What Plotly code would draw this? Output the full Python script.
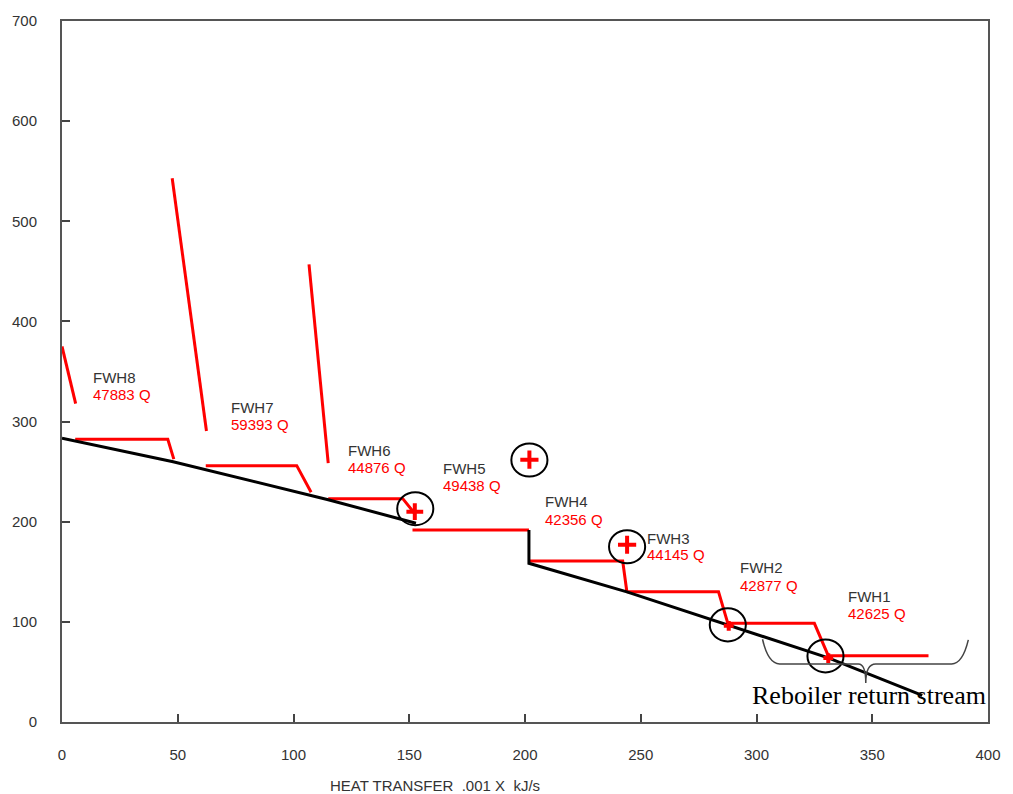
import plotly.graph_objects as go

# ---------------- data ----------------
x_ticks = [0, 50, 100, 150, 200, 250, 300, 350, 400]
y_ticks = [0, 100, 200, 300, 400, 500, 600, 700]

# feedwater (cold) composite line, black
feed_a_x = [0, 48, 115, 152.9]
feed_a_y = [283.3, 259.8, 222, 198.4]
feed_b_x = [201.7, 201.7, 244, 287.6, 331, 371.6]
feed_b_y = [191.7, 158.5, 130, 97, 64, 26.5]

# extraction steam desuperheating lines (red)
desup_x = [[0, 5.9], [47.6, 62.4], [106.7, 115]]
desup_y = [[375, 318], [543, 290.6], [457, 258.6]]

# heater condensing / drain profiles (red)
fwh8_x = [5.7, 45.7, 48.3]
fwh8_y = [282.3, 282.3, 262.5]
fwh7_x = [62.1, 101.4, 107.6]
fwh7_y = [256, 256, 229.5]
fwh6_x = [115, 147.2, 152.2]
fwh6_y = [223, 223, 208.7]
fwh5_x = [151.4, 201.7]
fwh5_y = [191.7, 191.7]
fwh4_x = [201.7, 242.2, 244]
fwh4_y = [160.8, 160.8, 130]
fwh3_x = [244, 283.6, 288]
fwh3_y = [130, 130, 95.5]
fwh2_x = [288, 325, 331.5]
fwh2_y = [98.5, 98.5, 63.6]
fwh1_x = [331.5, 374.3]
fwh1_y = [66.2, 66.2]

# red cross markers
cross_x = [152.4, 201.9, 244.1, 288, 331]
cross_y = [210, 262, 177, 96, 63.8]
cross_size = [12, 13, 13, 7, 7]

# black circles (centres)
circle_x = [152.6, 201.9, 244.1, 287.6, 329.8]
circle_y = [213, 261.6, 175, 97, 66]
circle_rx = 7.8
circle_ry = 16.5

# heater labels
fwh_names = ["FWH8", "FWH7", "FWH6", "FWH5", "FWH4", "FWH3", "FWH2", "FWH1"]
fwh_q = ["47883 Q", "59393 Q", "44876 Q", "49438 Q", "42356 Q", "44145 Q", "42877 Q", "42625 Q"]
label_x = [12.4, 72, 122.6, 163.6, 207.9, 251.9, 291.9, 338.6]
label_y = [344.5, 314.5, 271.6, 253.6, 219.9, 183.7, 153.8, 125.1]
q_y = [327.5, 297.5, 254.6, 236.6, 202.7, 166.8, 136.8, 107.9]

# brace under the reboiler return stream
brace_x = [302.6, 305, 310, 344, 347.2, 351.5, 384.3, 389, 391.5]
brace_y = [82.6, 62, 58, 58, 39, 58, 58, 62, 82]
brace_text = "Reboiler return stream"
brace_text_x = 348.5
brace_text_y = 26

x_title = "HEAT TRANSFER\u00a0\u00a0.001 X\u00a0\u00a0kJ/s"

# ---------------- figure ----------------
RED = "#ff0000"
fig = go.Figure()

def join(segs_x, segs_y):
    xs, ys = [], []
    for sx, sy in zip(segs_x, segs_y):
        xs += list(sx) + [None]
        ys += list(sy) + [None]
    return xs, ys

rx, ry = join(desup_x + [fwh8_x, fwh7_x, fwh6_x, fwh5_x, fwh4_x, fwh3_x, fwh2_x, fwh1_x],
              desup_y + [fwh8_y, fwh7_y, fwh6_y, fwh5_y, fwh4_y, fwh3_y, fwh2_y, fwh1_y])
fig.add_trace(go.Scatter(x=rx, y=ry, mode="lines",
                         line=dict(color=RED, width=3), hoverinfo="skip"))

bx, by = join([feed_a_x, feed_b_x], [feed_a_y, feed_b_y])
fig.add_trace(go.Scatter(x=bx, y=by, mode="lines",
                         line=dict(color="#000000", width=3), hoverinfo="skip"))

fig.add_trace(go.Scatter(x=cross_x, y=cross_y, mode="markers",
                         marker=dict(symbol="cross-thin", size=cross_size, opacity=1,
                                     line=dict(color=RED, width=4), color=RED),
                         hoverinfo="skip"))

for cx, cy in zip(circle_x, circle_y):
    fig.add_shape(type="circle", xref="x", yref="y",
                  x0=cx - circle_rx, x1=cx + circle_rx,
                  y0=cy - circle_ry, y1=cy + circle_ry,
                  line=dict(color="#000000", width=2))

# brace path (smooth with quadratic curves through the key points)
p = f"M {brace_x[0]},{brace_y[0]} Q {brace_x[1]},{brace_y[2]} {brace_x[2]},{brace_y[2]} " \
    f"L {brace_x[3]},{brace_y[3]} Q {brace_x[4]},{brace_y[3]} {brace_x[4]},{brace_y[4]} " \
    f"Q {brace_x[4]},{brace_y[5]} {brace_x[5]},{brace_y[5]} L {brace_x[6]},{brace_y[6]} " \
    f"Q {brace_x[7]},{brace_y[6]} {brace_x[8]},{brace_y[8]}"
fig.add_shape(type="path", xref="x", yref="y", path=p,
              line=dict(color="#444444", width=1.5))

for name, q, lx, ly, qy in zip(fwh_names, fwh_q, label_x, label_y, q_y):
    fig.add_annotation(x=lx, y=ly, text=name, showarrow=False, xanchor="left", yanchor="middle",
                       font=dict(family="Liberation Sans", size=15, color="#333333"))
    fig.add_annotation(x=lx, y=qy, text=q, showarrow=False, xanchor="left", yanchor="middle",
                       font=dict(family="Liberation Sans", size=15, color=RED))

fig.add_annotation(x=brace_text_x, y=brace_text_y, text=brace_text, showarrow=False,
                   xanchor="center", yanchor="middle",
                   font=dict(family="Liberation Serif", size=26, color="#000000"))

fig.add_annotation(x=0.287, y=-0.09, xref="paper", yref="paper", text=x_title,
                   showarrow=False, xanchor="left", yanchor="middle",
                   font=dict(family="Liberation Sans", size=15, color="#333333"))

axis_common = dict(showgrid=False, zeroline=False, showline=True, mirror=True,
                   linecolor="#555555", linewidth=2, ticks="inside", ticklen=8,
                   tickwidth=1.5, tickcolor="#444444",
                   tickfont=dict(family="Liberation Sans", size=15, color="#333333"))

fig.update_xaxes(range=[0, 400], tickvals=x_ticks, ticklabelstandoff=18, **axis_common)
fig.update_yaxes(range=[0, 700], tickvals=y_ticks, ticklabelstandoff=20, **axis_common)

fig.update_layout(width=1013, height=794, showlegend=False,
                  margin=dict(l=60, r=18, t=21, b=72),
                  paper_bgcolor="white", plot_bgcolor="white")

fig.write_html("out.html")
